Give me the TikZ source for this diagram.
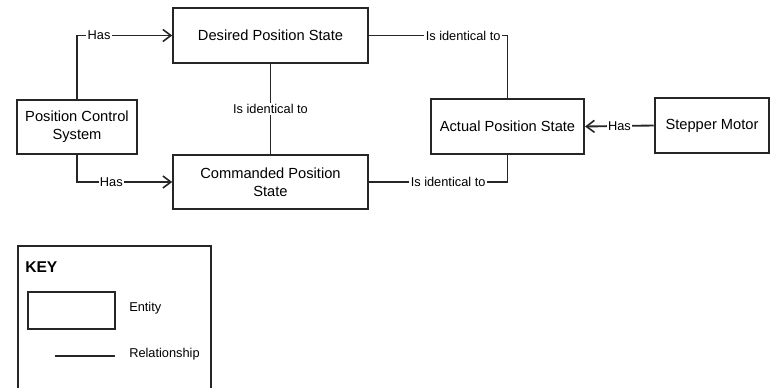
\documentclass[tikz,border=0pt]{standalone}
\usepackage{fontspec}
\setmainfont{Liberation Sans}
\usetikzlibrary{arrows.meta, positioning}
\tikzset{
  entity/.style={rectangle, draw=black!85, line width=1.4pt, fill=white,
                 minimum width=#1, minimum height=41pt, align=center,
                 inner sep=2pt, font=\fontsize{11}{13.5}\selectfont},
  entity/.default=146pt,
  rel/.style={draw=black!85, line width=1.4pt},
  relarrow/.style={rel, -{Straight Barb[length=6pt, width=9pt, line width=1.2pt]}},
  rellabel/.style={fill=white, inner sep=1pt, font=\fontsize{9.6}{11}\selectfont},
}

\begin{document}
\begin{tikzpicture}[x=0.75pt, y=-0.75pt]
  \useasboundingbox (0,0) rectangle (770,388);

  % entities
  \node[entity] (desired) at (270.5,35.5) {Desired Position State};
  \node[entity] (commanded) at (270.5,182) {Commanded Position\\State};
  \node[entity=90pt] (pcs) at (77,127) {Position Control\\System};
  \node[entity=115pt] (actual) at (507.5,126.5) {Actual Position State};
  \node[entity=86pt] (stepper) at (712,125.5) {Stepper Motor};

  % relationships
  \draw[relarrow] (pcs.north) |- node[rellabel, pos=0.616] {Has} (desired.west);
  \draw[relarrow] (pcs.south) |- node[rellabel, pos=0.68] {Has} (commanded.west);
  \draw[rel] (desired.south) -- node[rellabel] {Is identical to} (commanded.north);
  \draw[rel] (desired.east) -| node[rellabel, pos=0.34] {Is identical to} (actual.north);
  \draw[rel] (commanded.east) -| node[rellabel, pos=0.286] {Is identical to} (actual.south);
  \draw[relarrow] (stepper.west) -- node[rellabel] {Has} (actual.east);

  % key
  \draw[draw=black!85, line width=1.4pt] (18,246) rectangle (211,400);
  \node[anchor=west, inner sep=0pt, font=\fontsize{11.7}{14}\selectfont\bfseries] (keytitle) at (25,267) {KEY};
  \node[draw=black!85, line width=1.4pt, minimum width=65pt, minimum height=27.5pt, inner sep=0pt] (keyentity) at (71.5,310.5) {};
  \node[anchor=west, inner sep=0pt, font=\fontsize{9.6}{11}\selectfont] (keyentitytxt) at (129,308) {Entity};
  \coordinate (relA) at (55,356);
  \coordinate (relB) at (115,356);
  \draw[rel] (relA) -- (relB);
  \node[anchor=west, inner sep=0pt, font=\fontsize{9.6}{11}\selectfont] (keyreltxt) at (129,354) {Relationship};
\end{tikzpicture}
\end{document}
